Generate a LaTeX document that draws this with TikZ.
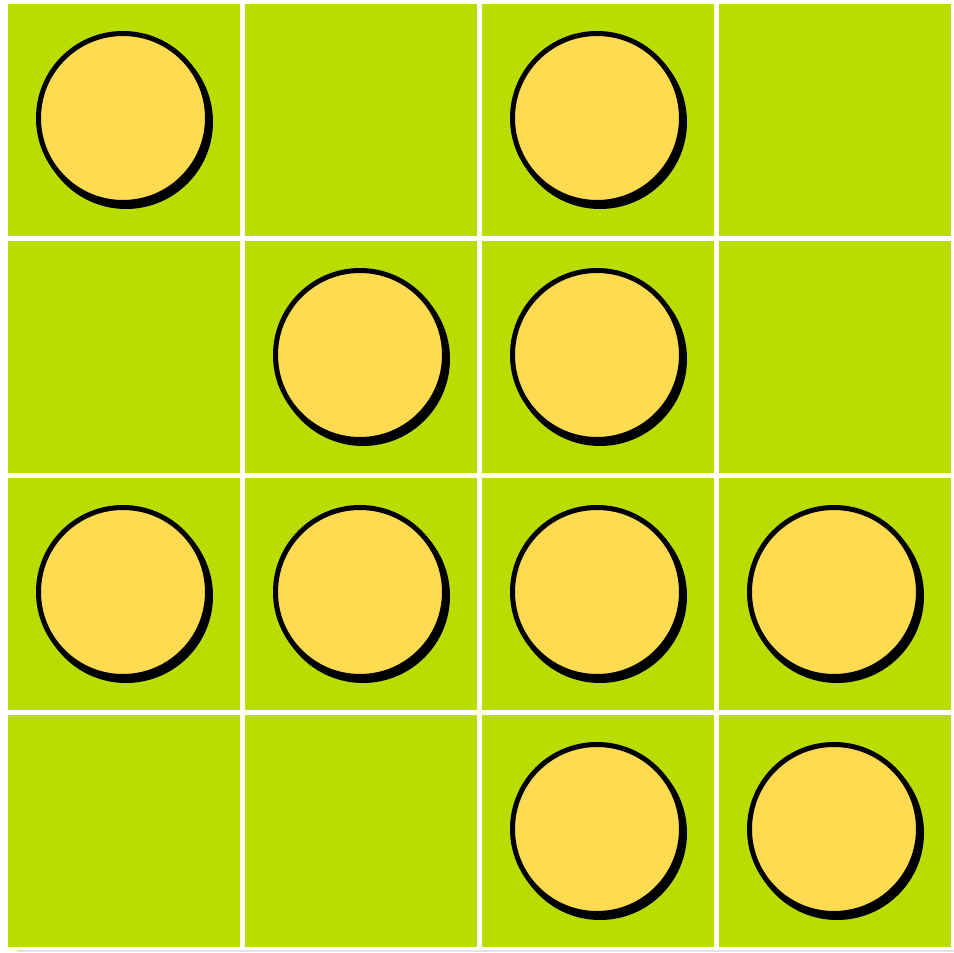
\documentclass[tikz,border=0pt]{standalone}
\definecolor{grass}{RGB}{187,220,0}
\definecolor{sun}{RGB}{255,219,82}
\definecolor{faint}{RGB}{226,226,238}
\begin{document}
\begin{tikzpicture}[x=1pt,y=-1pt,
  cellbox/.style={fill=grass},
  coinshadow/.style={fill=black},
  coin/.style={fill=sun,draw=black,line width=5pt}]
\useasboundingbox (0,0) rectangle (954,953);
\fill[white] (0,0) rectangle (954,953);
\draw[faint,line width=1.2pt] (17,951) -- (954,951);
\foreach \r in {0,...,3}
  \foreach \c in {0,...,3}
    \fill[cellbox] ({8+237*\c},{4+237*\r}) rectangle ++(232,232);
\foreach \c/\r in {0/0,2/0,1/1,2/1,0/2,1/2,2/2,3/2,2/3,3/3}{
  \fill[coinshadow] ({123+237*\c+3},{118+237*\r+4}) circle (87);
  \filldraw[coin] ({123+237*\c},{118+237*\r}) circle (84.5);
}
\end{tikzpicture}
\end{document}
